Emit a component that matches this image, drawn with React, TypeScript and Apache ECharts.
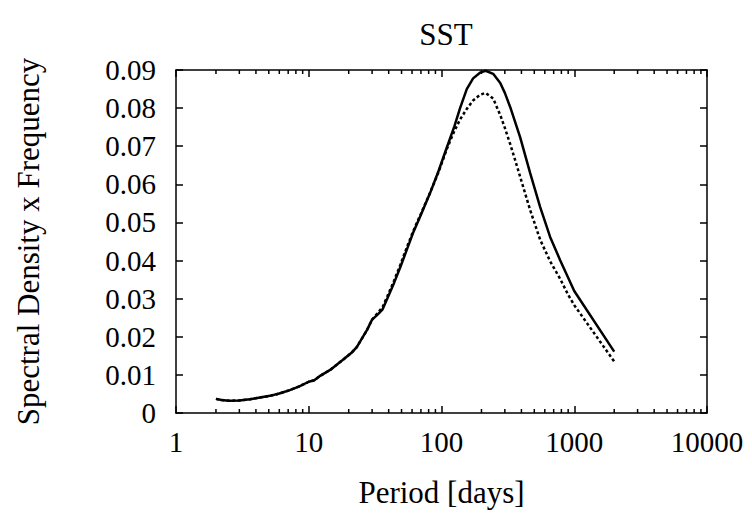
import React, { useEffect, useRef } from "react";
import * as echarts from "echarts";

const periods = [2, 2.2, 2.5, 3, 3.6, 4.2, 5.1, 6, 7.2, 8.5, 10, 11, 12, 14.5, 18, 21, 23, 27.5, 30, 33, 36, 39, 44, 49, 55, 61, 70, 82, 95, 110, 125, 138, 155, 173, 195, 215, 245, 277, 300, 329, 360, 391, 465, 553, 658, 783, 900, 1000, 2000];

const solidValues = [0.0037, 0.0034, 0.0032, 0.0033, 0.0036, 0.004, 0.0045, 0.0051, 0.006, 0.007, 0.0082, 0.0086, 0.0096, 0.0113, 0.0139, 0.0158, 0.0173, 0.0218, 0.0245, 0.0258, 0.0272, 0.03, 0.0342, 0.0383, 0.043, 0.0472, 0.052, 0.0577, 0.0635, 0.0698, 0.0752, 0.08, 0.085, 0.0878, 0.0893, 0.0898, 0.089, 0.0866, 0.084, 0.0803, 0.0762, 0.0724, 0.063, 0.0541, 0.0462, 0.0401, 0.0355, 0.032, 0.0161];

const dashedValues = [0.0037, 0.0034, 0.0032, 0.0033, 0.0036, 0.004, 0.0045, 0.0051, 0.006, 0.007, 0.0082, 0.0086, 0.0096, 0.0113, 0.0139, 0.0158, 0.0173, 0.0218, 0.0245, 0.0262, 0.0278, 0.0305, 0.0348, 0.0389, 0.0436, 0.0476, 0.0523, 0.0578, 0.0632, 0.0694, 0.074, 0.077, 0.0798, 0.082, 0.0835, 0.084, 0.0825, 0.0782, 0.0748, 0.0706, 0.0662, 0.062, 0.0533, 0.0455, 0.0398, 0.0352, 0.031, 0.0283, 0.0135];

const minorTickValues = [
  2, 3, 4, 5, 6, 7, 8, 9,
  20, 30, 40, 50, 60, 70, 80, 90,
  200, 300, 400, 500, 600, 700, 800, 900,
  2000, 3000, 4000, 5000, 6000, 7000, 8000, 9000,
];

const X_MIN = 1;
const X_MAX = 10000;
const Y_MIN = 0;
const Y_MAX = 0.09;
const Y_STEP = 0.01;

const FONT = "Liberation Serif";

export default function App() {
  const ref = useRef<HTMLDivElement>(null);

  useEffect(() => {
    if (!ref.current) return;
    const chart = echarts.init(ref.current, undefined, { renderer: "svg" });

    const mk = () => ({ show: true, onZero: false, lineStyle: { color: "#000", width: 1.5 } });
    const mt = () => ({ show: true, inside: true, length: 7, lineStyle: { color: "#000", width: 1.5 } });

    const option: any = {
      animation: false,
      backgroundColor: "#fff",
      title: {
        text: "SST",
        left: 441,
        top: 14,
        textAlign: "center",
        textStyle: { fontFamily: FONT, fontSize: 31, fontWeight: "normal", color: "#000" },
      },
      grid: { left: 176, right: 45, top: 70, bottom: 101, containLabel: false },
      xAxis: [
        {
          type: "log",
          logBase: 10,
          min: X_MIN,
          max: X_MAX,
          position: "bottom",
          name: "Period [days]",
          nameLocation: "middle",
          nameGap: 64,
          nameTextStyle: { fontFamily: FONT, fontSize: 31, color: "#000" },
          axisLine: mk(),
          axisTick: mt(),
          axisLabel: {
            fontFamily: FONT,
            fontSize: 29,
            color: "#000",
            margin: 14,
            formatter: (v: number) => String(Math.round(v)),
          },
          splitLine: { show: false },
        },
        {
          type: "log",
          logBase: 10,
          min: X_MIN,
          max: X_MAX,
          position: "top",
          axisLine: mk(),
          axisTick: mt(),
          axisLabel: { show: false },
          splitLine: { show: false },
        },
      ],
      yAxis: [
        {
          type: "value",
          min: Y_MIN,
          max: Y_MAX,
          interval: Y_STEP,
          position: "left",
          name: "Spectral Density x Frequency",
          nameLocation: "middle",
          nameGap: 132,
          nameTextStyle: { fontFamily: FONT, fontSize: 31, color: "#000" },
          axisLine: mk(),
          axisTick: mt(),
          axisLabel: {
            fontFamily: FONT,
            fontSize: 29,
            color: "#000",
            margin: 20,
            formatter: (v: number) => (v === 0 ? "0" : v.toFixed(2)),
          },
          splitLine: { show: false },
        },
        {
          type: "value",
          min: Y_MIN,
          max: Y_MAX,
          interval: Y_STEP,
          position: "right",
          axisLine: mk(),
          axisTick: mt(),
          axisLabel: { show: false },
          splitLine: { show: false },
        },
      ],
      series: [
        {
          type: "custom",
          xAxisIndex: 0,
          yAxisIndex: 0,
          silent: true,
          clip: false,
          z: 5,
          data: minorTickValues.map((v) => [v, Y_MIN]),
          renderItem: (params: any, api: any) => {
            const v = api.value(0);
            const b = api.coord([v, Y_MIN]);
            const t = api.coord([v, Y_MAX]);
            const style = { stroke: "#000", lineWidth: 1.5 };
            return {
              type: "group",
              children: [
                { type: "line", shape: { x1: b[0], y1: b[1], x2: b[0], y2: b[1] - 4 }, style },
                { type: "line", shape: { x1: t[0], y1: t[1], x2: t[0], y2: t[1] + 4 }, style },
              ],
            };
          },
        },
        {
          type: "line",
          name: "solid",
          xAxisIndex: 0,
          yAxisIndex: 0,
          data: periods.map((p, i) => [p, solidValues[i]]),
          showSymbol: false,
          smooth: false,
          lineStyle: { color: "#000", width: 2.5, type: "solid" },
        },
        {
          type: "line",
          name: "dashed",
          xAxisIndex: 0,
          yAxisIndex: 0,
          data: periods.map((p, i) => [p, dashedValues[i]]),
          showSymbol: false,
          smooth: false,
          lineStyle: { color: "#000", width: 2.5, type: [3, 2.5] },
        },
      ],
    };

    chart.setOption(option);
    return () => chart.dispose();
  }, []);

  return (
    <div
      ref={ref}
      style={{ position: "absolute", left: 0, top: 0, width: 752, height: 514, background: "#fff" }}
    />
  );
}
